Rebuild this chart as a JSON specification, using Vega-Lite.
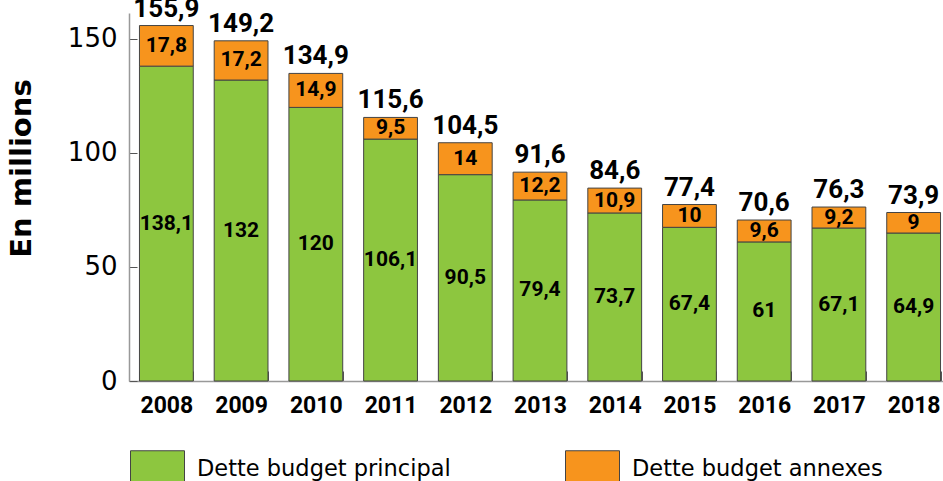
{
  "$schema": "https://vega.github.io/schema/vega-lite/v6.json",
  "width": 822,
  "height": 368,
  "autosize": {"type": "none"},
  "padding": {"left": 129, "top": 13, "right": 0, "bottom": 100},
  "config": {
    "locale": {"number": {"decimal": ",", "thousands": " ", "grouping": [3], "currency": ["", " €"]}},
    "view": {"stroke": null}
  },
  "data": {
    "values": [
      {"year": "2008", "serie": "Dette budget principal", "value": 138.1},
      {"year": "2008", "serie": "Dette budget annexes", "value": 17.8},
      {"year": "2009", "serie": "Dette budget principal", "value": 132},
      {"year": "2009", "serie": "Dette budget annexes", "value": 17.2},
      {"year": "2010", "serie": "Dette budget principal", "value": 120},
      {"year": "2010", "serie": "Dette budget annexes", "value": 14.9},
      {"year": "2011", "serie": "Dette budget principal", "value": 106.1},
      {"year": "2011", "serie": "Dette budget annexes", "value": 9.5},
      {"year": "2012", "serie": "Dette budget principal", "value": 90.5},
      {"year": "2012", "serie": "Dette budget annexes", "value": 14},
      {"year": "2013", "serie": "Dette budget principal", "value": 79.4},
      {"year": "2013", "serie": "Dette budget annexes", "value": 12.2},
      {"year": "2014", "serie": "Dette budget principal", "value": 73.7},
      {"year": "2014", "serie": "Dette budget annexes", "value": 10.9},
      {"year": "2015", "serie": "Dette budget principal", "value": 67.4},
      {"year": "2015", "serie": "Dette budget annexes", "value": 10},
      {"year": "2016", "serie": "Dette budget principal", "value": 61},
      {"year": "2016", "serie": "Dette budget annexes", "value": 9.6},
      {"year": "2017", "serie": "Dette budget principal", "value": 67.1},
      {"year": "2017", "serie": "Dette budget annexes", "value": 9.2},
      {"year": "2018", "serie": "Dette budget principal", "value": 64.9},
      {"year": "2018", "serie": "Dette budget annexes", "value": 9}
    ]
  },
  "transform": [
    {"stack": "value", "groupby": ["year"], "sort": [{"field": "serie", "order": "descending"}], "as": ["y0", "y1"]},
    {"calculate": "(datum.y0 + datum.y1) / 2", "as": "mid"},
    {"joinaggregate": [{"op": "sum", "field": "value", "as": "total"}], "groupby": ["year"]}
  ],
  "encoding": {
    "x": {
      "field": "year", "type": "ordinal",
      "scale": {"paddingInner": 0.28, "paddingOuter": 0.14},
      "axis": {
        "title": null, "labelAngle": 0,
        "labelFont": "Roboto", "labelFontWeight": "bold", "labelFontSize": 23, "labelColor": "#000",
        "labelPadding": 23,
        "domainColor": "#999", "domainWidth": 1.5,
        "tickBand": "extent", "tickSize": -10, "tickColor": "#555", "tickWidth": 1
      }
    }
  },
  "layer": [
    {
      "mark": {"type": "bar", "stroke": "#444", "strokeWidth": 1},
      "encoding": {
        "y": {
          "field": "y0", "type": "quantitative",
          "scale": {"domain": [0, 161.4], "nice": false},
          "axis": {
            "values": [0, 50, 100, 150], "grid": false,
            "labelFont": "DejaVu Sans", "labelFontSize": 26, "labelColor": "#000", "labelPadding": 20,
            "domainColor": "#999", "domainWidth": 1.5,
            "tickSize": -8, "tickColor": "#555",
            "title": "En millions", "titleFont": "DejaVu Sans", "titleFontSize": 29, "titleFontWeight": "bold",
            "titleColor": "#000", "titleAngle": -90, "titleX": -93, "titleY": 155, "titleAlign": "center", "titleBaseline": "bottom"
          }
        },
        "y2": {"field": "y1"},
        "color": {
          "field": "serie", "type": "nominal",
          "scale": {"domain": ["Dette budget principal", "Dette budget annexes"], "range": ["#8dc63f", "#f7941d"]},
          "legend": {
            "title": null, "orient": "none", "legendX": 10, "legendY": 437, "direction": "horizontal",
            "symbolType": "M-1.5,-1L1.5,-1L1.5,1L-1.5,1Z", "symbolSize": 1296, "symbolStrokeColor": "#444", "symbolStrokeWidth": 1,
            "symbolOpacity": 1,
            "labelFont": "DejaVu Sans", "labelFontSize": 22.5, "labelColor": "#000", "labelOffset": 21, "labelLimit": 400,
            "columnPadding": 112
          }
        }
      }
    },
    {
      "mark": {"type": "text", "font": "Roboto", "fontWeight": "bold", "fontSize": 21, "color": "#000"},
      "encoding": {
        "y": {"field": "mid", "type": "quantitative"},
        "text": {"field": "value", "type": "quantitative", "format": ".4~g"}
      }
    },
    {
      "transform": [{"filter": "datum.serie == 'Dette budget annexes'"}],
      "mark": {"type": "text", "font": "Roboto", "fontWeight": "bold", "fontSize": 26, "color": "#000", "baseline": "alphabetic", "dy": -9},
      "encoding": {
        "y": {"field": "total", "type": "quantitative"},
        "text": {"field": "total", "type": "quantitative", "format": ".4~g"}
      }
    }
  ]
}
